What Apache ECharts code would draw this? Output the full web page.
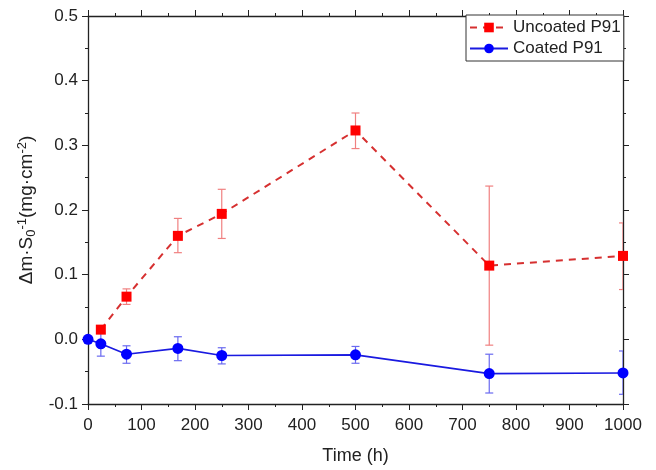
<!DOCTYPE html>
<html>
<head>
<meta charset="utf-8">
<script src="https://cdn.jsdelivr.net/npm/echarts@6/dist/echarts.min.js"></script>
<style>
  html, body { margin: 0; padding: 0; background: #fff; }
  #chart { width: 656px; height: 470px; }
</style>
</head>
<body>
<div id="chart"></div>
<script>
// data
const uncoatedHours = [24, 72, 168, 250, 500, 750, 1000]
const uncoatedMean = [0.015, 0.066, 0.160, 0.194, 0.323, 0.114, 0.129]
const uncoatedLow = [0.010, 0.054, 0.134, 0.156, 0.295, -0.009, 0.077]
const uncoatedHigh = [0.020, 0.078, 0.187, 0.232, 0.350, 0.237, 0.180]

const coatedHours = [0, 24, 72, 168, 250, 500, 750, 1000]
const coatedMean = [0.0, -0.007, -0.023, -0.014, -0.025, -0.024, -0.053, -0.052]
const coatedLow = [0.0, -0.026, -0.037, -0.033, -0.038, -0.037, -0.083, -0.085]
const coatedHigh = [0.0, 0.010, -0.010, 0.004, -0.013, -0.011, -0.023, -0.018]

const pairs = (xs, ys) => xs.map((x, i) => [x, ys[i]])
const errRows = (xs, lo, hi) => xs.map((x, i) => [x, lo[i], hi[i]])

function errorBar(color) {
  return function (params, api) {
    const x = api.value(0)
    const lo = api.coord([x, api.value(1)])
    const hi = api.coord([x, api.value(2)])
    if (Math.abs(hi[1] - lo[1]) < 1) return null
    const w = 4
    const st = { stroke: color, lineWidth: 1.2 }
    return {
      type: 'group',
      children: [
        { type: 'line', shape: { x1: lo[0], y1: lo[1], x2: hi[0], y2: hi[1] }, style: st },
        { type: 'line', shape: { x1: lo[0] - w, y1: lo[1], x2: lo[0] + w, y2: lo[1] }, style: st },
        { type: 'line', shape: { x1: hi[0] - w, y1: hi[1], x2: hi[0] + w, y2: hi[1] }, style: st }
      ]
    }
  }
}

const font = 'Liberation Sans, Arial, sans-serif'
const axisCol = '#222'

let myChart = echarts.init(document.getElementById('chart'))
myChart.setOption({
  animation: false,
  textStyle: { fontFamily: font },
  grid: { left: 88, right: 33, top: 16, bottom: 64 },
  legend: {
    data: ['Uncoated P91', 'Coated P91'],
    orient: 'vertical',
    left: 466,
    top: 15,
    padding: [4, 3, 4, 3],
    itemGap: 4,
    itemWidth: 38,
    itemHeight: 12,
    borderColor: '#333',
    borderWidth: 1,
    borderRadius: 0,
    backgroundColor: '#fff',
    textStyle: { fontSize: 17, color: '#222', fontFamily: font }
  },
  xAxis: [{
    type: 'value',
    min: 0, max: 1000, interval: 100,
    name: 'Time (h)',
    nameLocation: 'middle',
    nameGap: 43,
    nameTextStyle: { fontSize: 18, color: '#222' },
    axisLine: { onZero: false, lineStyle: { color: axisCol, width: 1.3 } },
    axisTick: { length: 6, lineStyle: { color: axisCol } },
    minorTick: { show: true, splitNumber: 2, length: 3, lineStyle: { color: axisCol } },
    axisLabel: { fontSize: 17, color: '#222', margin: 13, formatter: v => String(v) },
    splitLine: { show: false }
  }, {
    type: 'value', position: 'top',
    min: 0, max: 1000, interval: 100,
    axisLine: { onZero: false, lineStyle: { color: axisCol, width: 1.3 } },
    axisTick: { length: 6, lineStyle: { color: axisCol } },
    minorTick: { show: true, splitNumber: 2, length: 3, lineStyle: { color: axisCol } },
    axisLabel: { show: false },
    splitLine: { show: false }
  }],
  yAxis: [{
    type: 'value',
    min: -0.1, max: 0.5, interval: 0.1,
    name: '{t|Δm·S}{sub|0}{sup|-1}{t|(mg·cm}{sup|-2}{t|)}',
    nameLocation: 'middle',
    nameGap: 50,
    nameTextStyle: {
      rich: {
        t: { fontSize: 19, color: '#222', fontFamily: font },
        sub: { fontSize: 13, color: '#222', fontFamily: font, verticalAlign: 'bottom', padding: [9, 0, 0, 0] },
        sup: { fontSize: 13, color: '#222', fontFamily: font, verticalAlign: 'top', padding: [0, 0, 9, 0] }
      }
    },
    axisLine: { onZero: false, lineStyle: { color: axisCol, width: 1.3 } },
    axisTick: { length: 6, lineStyle: { color: axisCol } },
    minorTick: { show: true, splitNumber: 2, length: 3, lineStyle: { color: axisCol } },
    axisLabel: { fontSize: 17, color: '#222', margin: 10, formatter: v => v.toFixed(1) },
    splitLine: { show: false }
  }, {
    type: 'value', position: 'right',
    min: -0.1, max: 0.5, interval: 0.1,
    axisLine: { show: true, onZero: false, lineStyle: { color: axisCol, width: 1.3 } },
    axisTick: { show: true, length: 6, lineStyle: { color: axisCol } },
    minorTick: { show: true, splitNumber: 2, length: 3, lineStyle: { color: axisCol } },
    axisLabel: { show: false },
    splitLine: { show: false }
  }],
  series: [
    {
      type: 'custom',
      name: 'uncoated-err',
      clip: true,
      renderItem: errorBar('#f08080'),
      data: errRows(uncoatedHours, uncoatedLow, uncoatedHigh),
      encode: { x: 0, y: [1, 2] },
      z: 1
    },
    {
      type: 'custom',
      name: 'coated-err',
      clip: true,
      renderItem: errorBar('#6a6af0'),
      data: errRows(coatedHours, coatedLow, coatedHigh),
      encode: { x: 0, y: [1, 2] },
      z: 1
    },
    {
      name: 'Uncoated P91',
      type: 'line',
      data: pairs(uncoatedHours, uncoatedMean),
      symbol: 'rect',
      symbolSize: 10,
      itemStyle: { color: '#ff0000' },
      lineStyle: { color: '#d63030', width: 2, type: [7, 6] },
      z: 3
    },
    {
      name: 'Coated P91',
      type: 'line',
      data: pairs(coatedHours, coatedMean),
      symbol: 'circle',
      symbolSize: 11,
      itemStyle: { color: '#0000ff' },
      lineStyle: { color: '#1a1ae0', width: 1.6 },
      z: 2
    }
  ]
})
</script>
</body>
</html>
